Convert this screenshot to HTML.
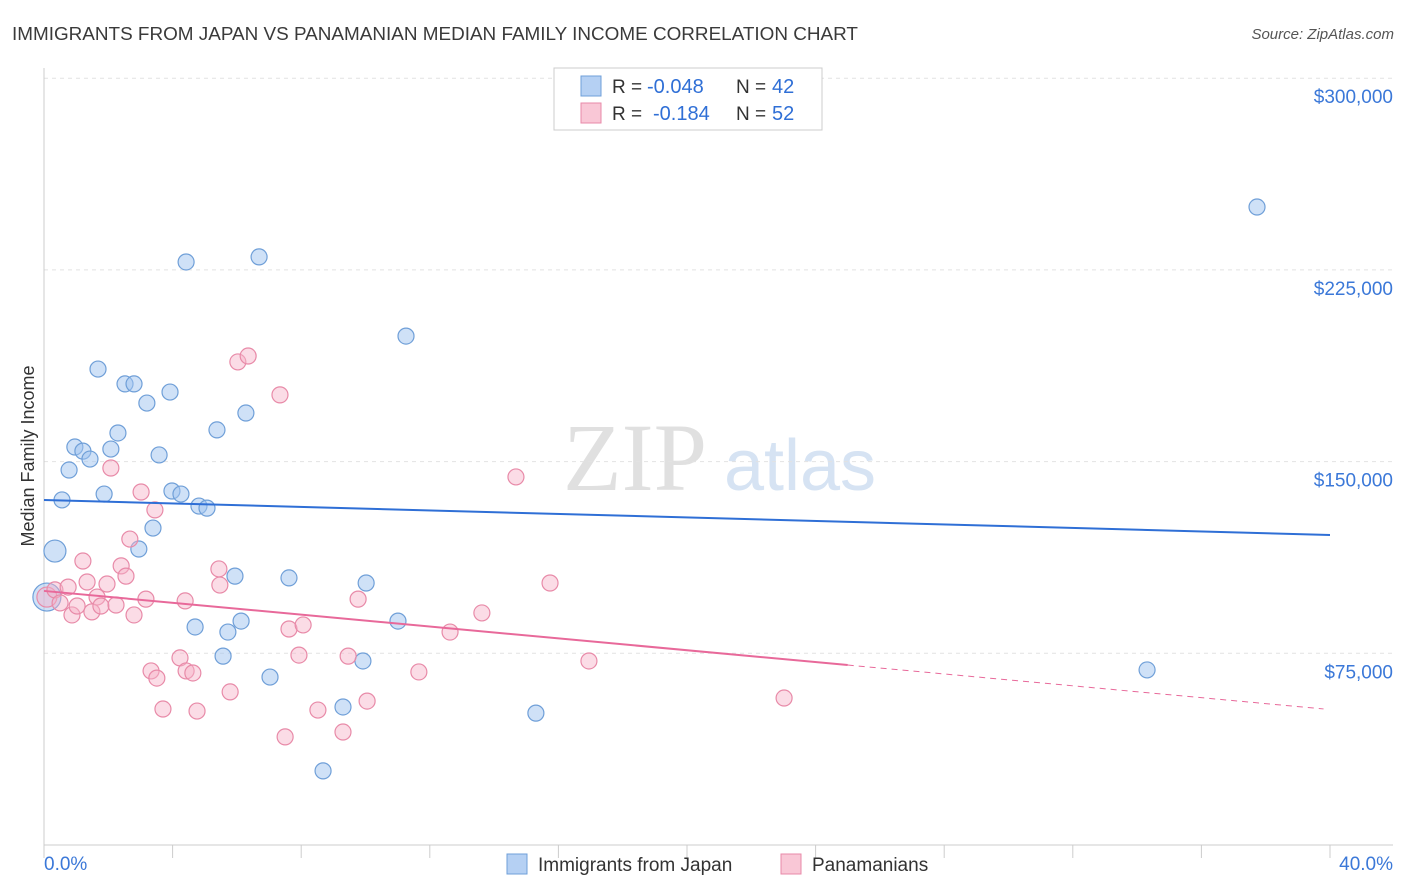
<!DOCTYPE html>
<html><head><meta charset="utf-8"><style>
body{margin:0;background:#fff;font-family:"Liberation Sans",sans-serif;}
svg{display:block}
</style></head><body>
<svg id="chart" width="1406" height="892">
<text x="12" y="40" font-size="18.9" fill="#3a3a3a">IMMIGRANTS FROM JAPAN VS PANAMANIAN MEDIAN FAMILY INCOME CORRELATION CHART</text>
<text x="1394" y="39" font-size="15" fill="#555" text-anchor="end" font-style="italic">Source: ZipAtlas.com</text>
<text transform="translate(34,456) rotate(-90)" font-size="18" fill="#333" text-anchor="middle">Median Family Income</text>
<g>
<text x="635" y="490" font-size="96" fill="#e0e0e0" text-anchor="middle" font-family="Liberation Serif,serif">ZIP</text>
<text x="800" y="490" font-size="72" fill="#d6e3f3" text-anchor="middle">atlas</text>
</g>
<g id="grid"></g><g id="axes"></g><g id="marks"></g>
<g>
<rect x="554" y="68" width="268" height="62" fill="#fff" stroke="#ccc"/>
<rect x="581" y="76" width="20" height="20" fill="#b5d0f3" stroke="#6f9fd8"/>
<rect x="581" y="103" width="20" height="20" fill="#f9c7d6" stroke="#e88aa8"/>
<text x="612" y="93" font-size="19" fill="#333">R =</text>
<text x="647" y="93" font-size="20" fill="#2f6fd6">-0.048</text>
<text x="736" y="93" font-size="19" fill="#333">N =</text>
<text x="772" y="93" font-size="20" fill="#2f6fd6">42</text>
<text x="612" y="120" font-size="19" fill="#333">R =</text>
<text x="653" y="120" font-size="20" fill="#2f6fd6">-0.184</text>
<text x="736" y="120" font-size="19" fill="#333">N =</text>
<text x="772" y="120" font-size="20" fill="#2f6fd6">52</text>
</g>
<g>
<rect x="507" y="854" width="20" height="20" fill="#b5d0f3" stroke="#6f9fd8"/>
<text x="538" y="871" font-size="19" fill="#333">Immigrants from Japan</text>
<rect x="781" y="854" width="20" height="20" fill="#f9c7d6" stroke="#e88aa8"/>
<text x="812" y="871" font-size="19" fill="#333">Panamanians</text>
</g>
</svg>
<script>
const yTicks=[75,150,225,300];
const yTickLabels=["$75,000","$150,000","$225,000","$300,000"];
const xTickLabels=["0.0%","40.0%"];
const japanX=[0.34,0.56,0.78,0.96,1.21,1.43,1.68,1.87,2.08,2.30,2.52,2.80,2.95,3.20,3.39,3.58,3.92,3.98,4.26,4.42,4.82,5.07,4.70,5.38,5.57,5.72,5.94,6.13,6.28,6.69,7.03,7.62,8.68,9.30,9.92,10.02,11.01,11.26,15.30,34.31,37.73,0.09];
const japanY=[115.0,135.0,146.7,155.7,154.1,151.0,186.2,137.3,154.9,161.2,180.4,180.4,115.8,172.9,124.0,152.6,177.2,138.5,137.3,228.1,132.6,131.8,85.3,162.4,73.9,83.3,105.2,87.6,169.0,230.1,65.7,104.5,29.0,54.0,72.0,102.5,87.6,199.1,51.6,68.5,249.6,97.0];
const panX=[0.09,0.34,0.50,0.75,0.87,1.03,1.21,1.34,1.49,1.65,1.77,1.96,2.08,2.24,2.40,2.55,2.67,2.80,3.02,3.17,3.33,3.45,3.51,3.70,4.23,4.39,4.42,4.63,4.76,5.44,5.47,5.79,6.03,6.35,7.34,7.50,7.62,7.93,8.06,8.52,9.30,9.46,9.77,10.05,11.66,12.63,13.62,14.68,15.74,16.95,23.02];
const panY=[97.0,99.8,94.7,100.9,90.0,93.5,111.1,102.9,91.2,97.0,93.5,102.1,147.5,93.9,109.2,105.2,119.7,90.0,138.1,96.2,68.1,131.1,65.3,53.2,73.2,95.5,68.1,67.3,52.4,108.0,101.7,59.9,189.0,191.3,176.1,42.3,84.5,74.3,86.1,52.8,44.2,73.9,96.2,56.3,67.7,83.3,90.8,144.0,102.5,72.0,57.5];
const japanTrend=[135.0,121.3];
const panTrend=[99.4,-1.16];

const NS="http://www.w3.org/2000/svg";
const X0=44,X1=1330,Y0=845;
const sx=v=>X0+(X1-X0)*v/40;
const sy=v=>Y0-v*191.7/75;
function mk(tag,attrs,parent){const e=document.createElementNS(NS,tag);for(const k in attrs)e.setAttribute(k,attrs[k]);parent.appendChild(e);return e;}
const grid=document.getElementById('grid'),axes=document.getElementById('axes'),marks=document.getElementById('marks');
yTicks.forEach((t,i)=>{
 const l=mk('line',{x1:X0,x2:1393,y1:sy(t),y2:sy(t),stroke:'#e2e2e2','stroke-dasharray':'4,4'},grid);
 
 
 const tx=mk('text',{x:1393,y:sy(t)+25,'font-size':19,fill:'#3b78d8','text-anchor':'end'},axes);
 tx.textContent=yTickLabels[i];
 
 
});
const ax=mk('line',{x1:X0,x2:X0,y1:68,y2:Y0,stroke:'#ccc'},axes);


const bx=mk('line',{x1:X0,x2:1393,y1:Y0,y2:Y0,stroke:'#ccc'},axes);


for(let i=0;i<=10;i++){
 const t=mk('line',{x1:sx(i*4),x2:sx(i*4),y1:Y0,y2:Y0+13,stroke:'#ccc'},axes);
 
 
}
const xl0=mk('text',{x:44,y:870,'font-size':19,fill:'#3b78d8'},axes);xl0.textContent=xTickLabels[0];


const xl1=mk('text',{x:1393,y:870,'font-size':19,fill:'#3b78d8','text-anchor':'end'},axes);xl1.textContent=xTickLabels[1];



japanX.forEach((x,i)=>{
 const r=i===0?11:(i===japanX.length-1?14:8);
 const c=mk('circle',{cx:sx(x),cy:sy(japanY[i]),r:r,fill:'rgba(160,196,240,0.5)',stroke:'#6f9fd8','stroke-width':1.2},marks);
 
 
});
panX.forEach((x,i)=>{
 const c=mk('circle',{cx:sx(x),cy:sy(panY[i]),r:i===0?10:8,fill:'rgba(246,178,200,0.45)',stroke:'#e88aa8','stroke-width':1.2},marks);
 
 
});
const jl=mk('line',{x1:sx(0),y1:sy(japanTrend[0]),x2:sx(40),y2:sy(japanTrend[1]),stroke:'#2f6fd6','stroke-width':2},marks);


const pEnd=25,pMax=39.8;
const pl=mk('line',{x1:sx(0),y1:sy(panTrend[0]),x2:sx(pEnd),y2:sy(panTrend[0]+panTrend[1]*pEnd),stroke:'#e8699a','stroke-width':2},marks);


const pd=mk('line',{x1:sx(pEnd),y1:sy(panTrend[0]+panTrend[1]*pEnd),x2:sx(pMax),y2:sy(panTrend[0]+panTrend[1]*pMax),stroke:'#e8699a','stroke-width':1,'stroke-dasharray':'6,5'},marks);


</script>
</body></html>
